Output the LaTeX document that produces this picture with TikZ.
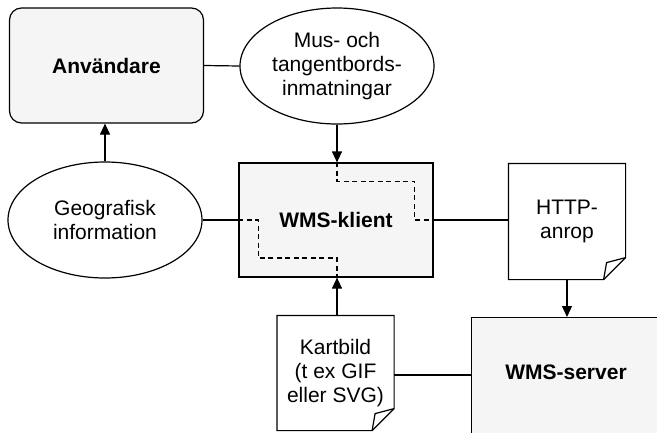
\documentclass[tikz,border=0pt]{standalone}
\usepackage{fontspec}
\setmainfont{Liberation Sans}
\usetikzlibrary{shapes.geometric, arrows.meta, calc}

\begin{document}
\begin{tikzpicture}[x=1pt, y=-1pt, >={Triangle[length=11pt,width=10pt]},
  every node/.style={font=\fontsize{21}{24}\selectfont, align=center, inner sep=0pt},
  box/.style={draw, fill=gray!8, minimum width=194pt, minimum height=115pt},
  oval/.style={draw, ellipse, fill=white, minimum width=194pt, minimum height=116pt},
  doc/.style={fill=white, minimum width=116pt, minimum height=115pt},
  line width=1.2pt]

\useasboundingbox (0,0) rectangle (657,432);
\clip (0,0) rectangle (657,432);

% --- Noder ---
\node[box, rounded corners=12pt] (anv) at (106.5,65.5) {\bfseries Användare};
\node[oval] (mus) at (337,66) {Mus- och\\tangentbords-\\inmatningar};
\node[oval] (geo) at (105,220) {Geografisk\\information};
\node[box, minimum height=114pt] (klient) at (336,220) {\bfseries WMS-klient};
\node[doc] (http) at (567,221.5) {HTTP-\\anrop};
\node[doc, minimum height=114pt] (kart) at (335.5,373) {Kartbild\\(t ex GIF\\eller SVG)};
\node[box, anchor=north west, minimum width=260pt, minimum height=170pt] (server) at (471,317) {};
\node (serverText) at ($(server.north west)+(95,55)$) {\bfseries WMS-server};

% --- Dokument med vikt hörn ---
\foreach \d in {http, kart}{
  \draw (\d.north west) -- (\d.north east) -- ($(\d.south east)+(0,-22)$)
    -- ($(\d.south east)+(-22,0)$) -- (\d.south west) -- cycle;
  \draw ($(\d.south east)+(-22,0)$) .. controls ($(\d.south east)+(-21,-9)$) .. ($(\d.south east)+(-19,-17)$)
    -- ($(\d.south east)+(0,-22)$);
}

% --- Förbindelser ---
\draw (anv.east) -- (mus.west);
\draw[->] (mus.south) -- (klient.north -| mus.south);
\draw[->] (geo.north) -- (anv.south -| geo.north);
\draw (geo.east) -- (klient.west);
\draw (klient.east) -- (klient.east -| http.west);
\draw[->] (http.south) -- (server.north -| http.south);
\draw[->] (kart.north -| 337,0) -- (klient.south -| 337,0);
\draw (kart.east |- 0,375) -- (server.west |- 0,375);

% --- Streckade vägar genom klienten ---
\draw[dash pattern=on 5pt off 3.5pt] (klient.north -| 337,0) -- ++(0,19) -| ([xshift=-19pt]klient.east) -- (klient.east);
\draw[dash pattern=on 5pt off 3.5pt] (klient.west) -- ++(20,0) -- ++(0,38) -| (klient.south -| 337,0);

\end{tikzpicture}
\end{document}
